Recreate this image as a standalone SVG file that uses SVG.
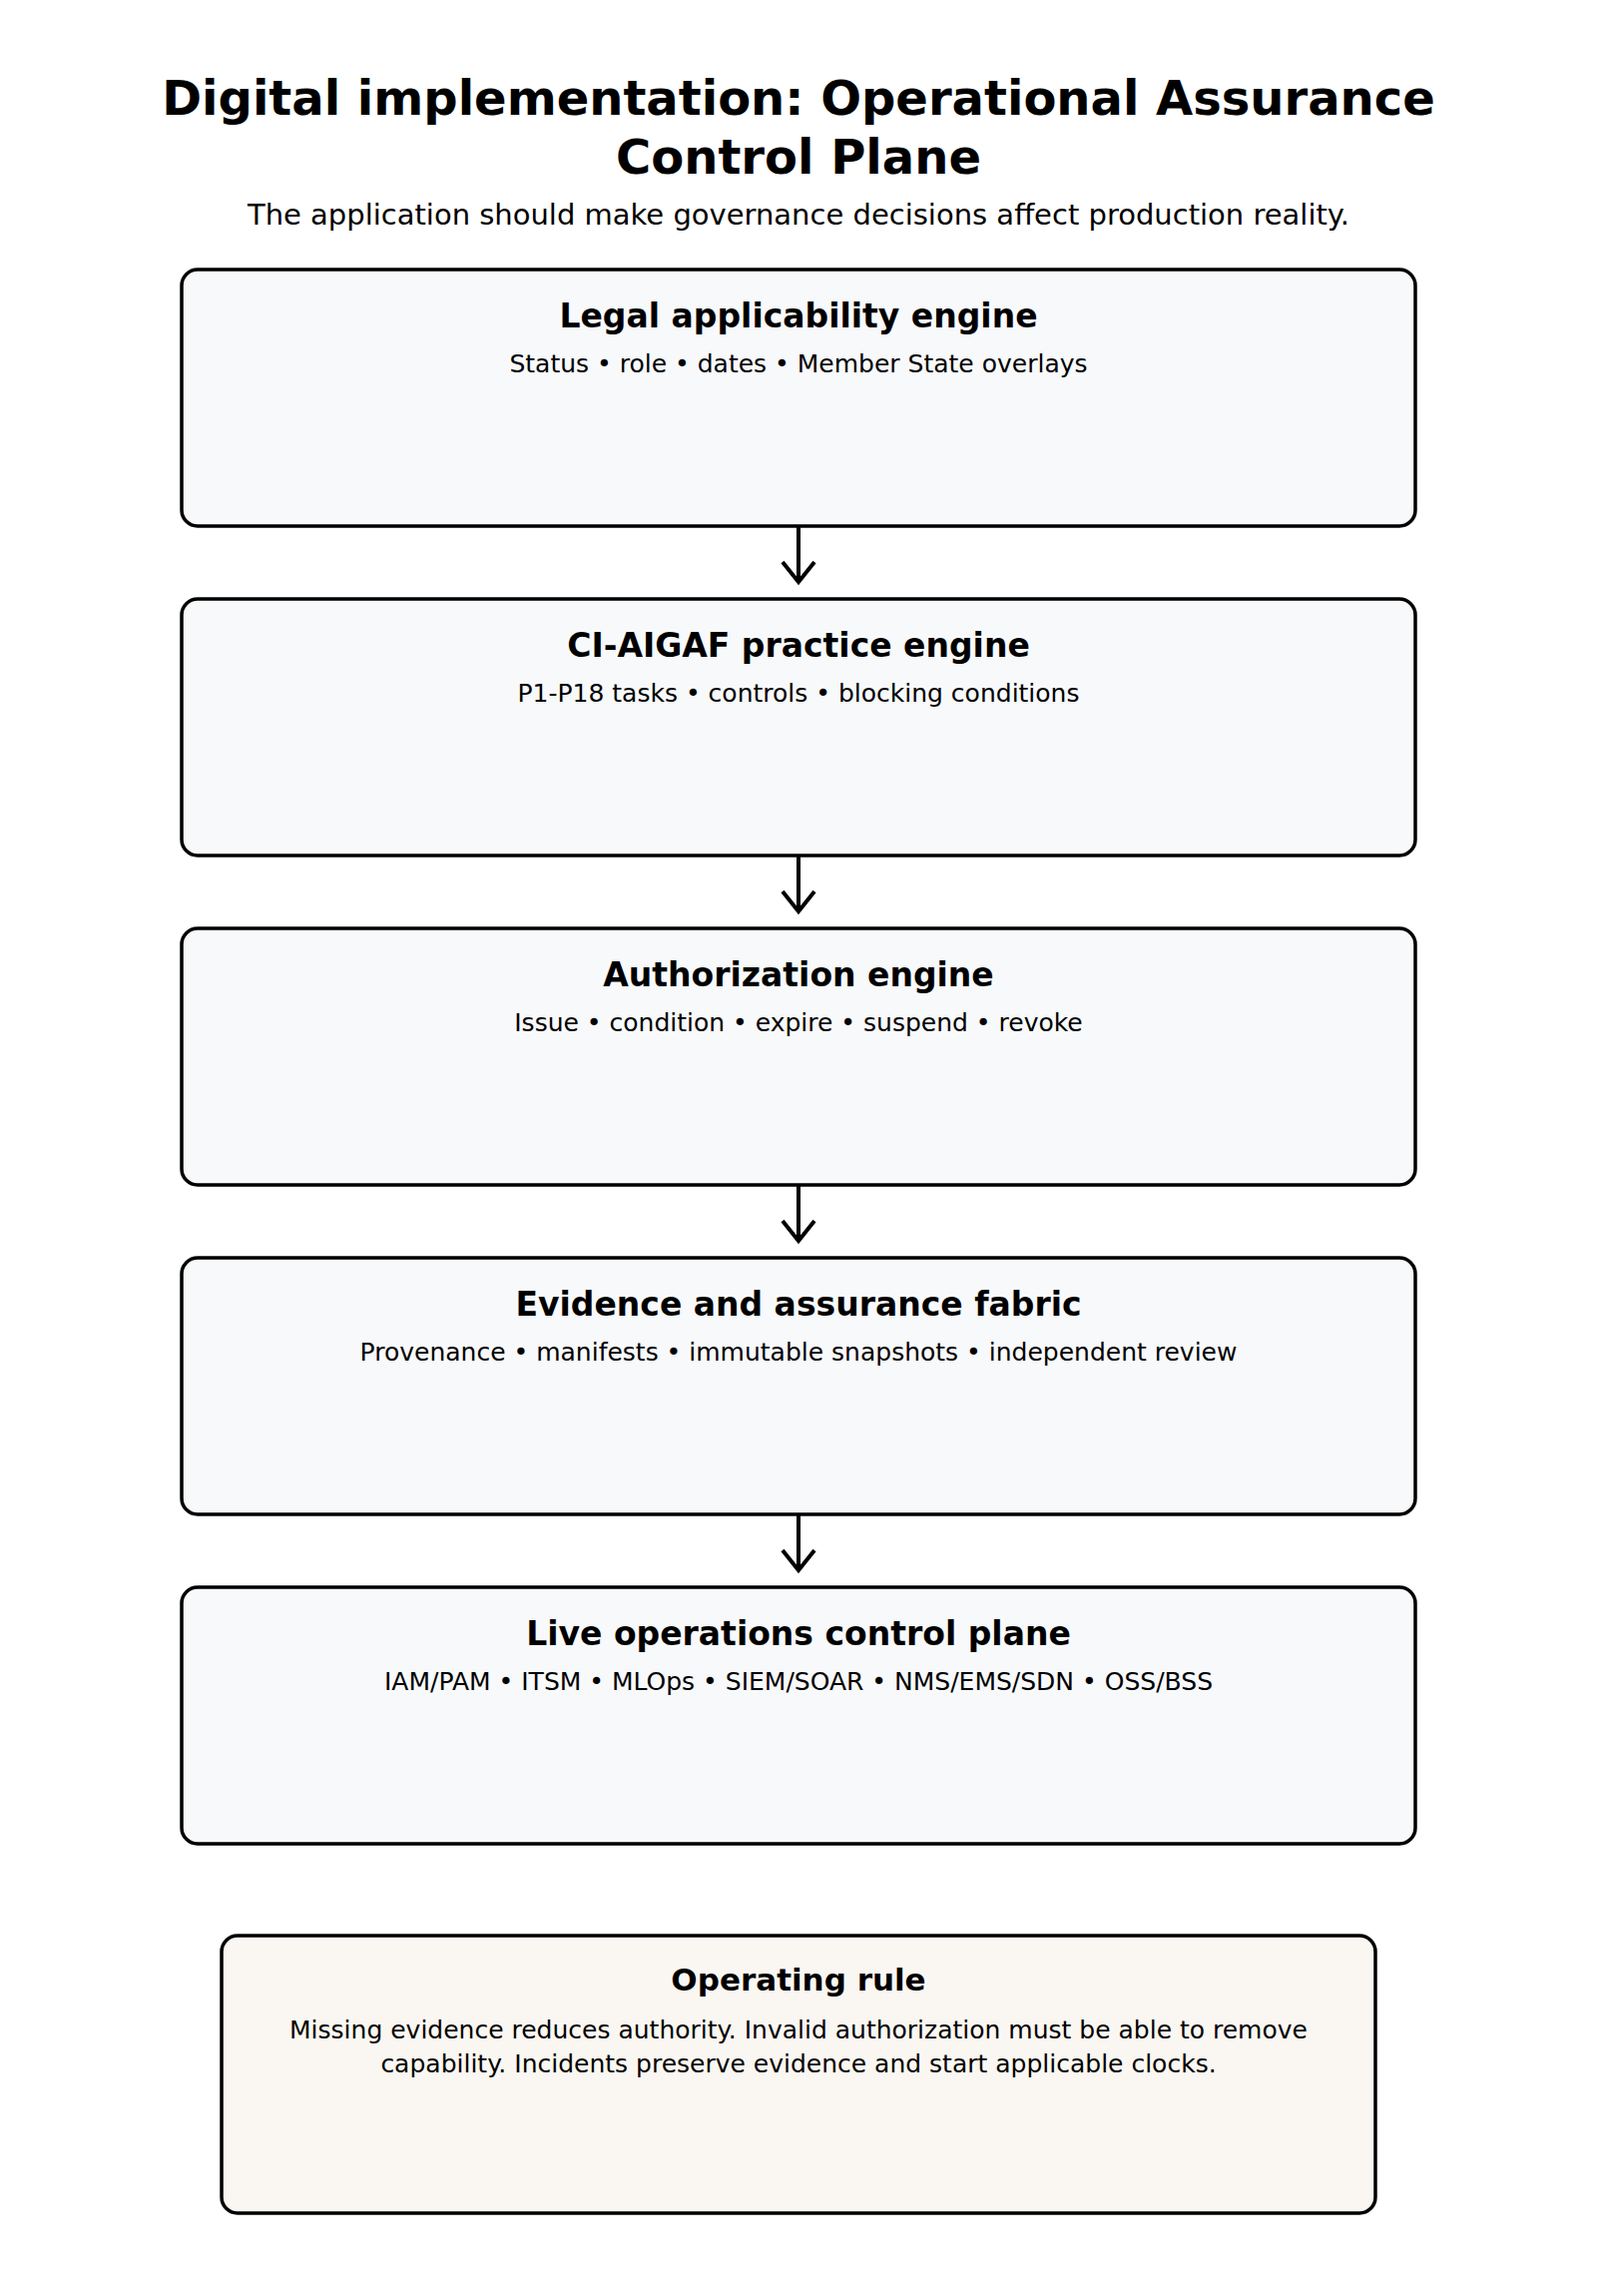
<svg xmlns="http://www.w3.org/2000/svg" width="1600" height="2300" viewBox="0 0 1600 2300">
<style>
text{font-family:"DejaVu Sans","Noto Sans",sans-serif;fill:#000;text-anchor:middle}
.t{font-size:48px;font-weight:bold}
.s{font-size:29px}
.nt{font-size:33px;font-weight:bold}
.rt{font-size:31px;font-weight:bold}
.ns{font-size:25px}
.box{fill:#f8f9fb;stroke:#000;stroke-width:3.5}
.rule{fill:#faf7f2;stroke:#000;stroke-width:3.5}
.edge{stroke:#000;stroke-width:4;fill:none}
</style>
<rect width="1600" height="2300" fill="#fff"/>
<g id="title">
<text class="t" x="800" y="115">Digital implementation: Operational Assurance</text>
<text class="t" x="800" y="174">Control Plane</text>
<text class="s" x="800" y="225">The application should make governance decisions affect production reality.</text>
</g>
<g id="connectors">
<path class="edge" d="M800,527 V582"/>
<path class="edge" d="M784,563 L800,583 L816,563"/>
<path class="edge" d="M800,857 V912"/>
<path class="edge" d="M784,893 L800,913 L816,893"/>
<path class="edge" d="M800,1187 V1242"/>
<path class="edge" d="M784,1223 L800,1243 L816,1223"/>
<path class="edge" d="M800,1517 V1572"/>
<path class="edge" d="M784,1553 L800,1573 L816,1553"/>
</g>
<g id="node-legal">
<rect class="box" x="182" y="270" width="1236" height="257" rx="16"/>
<text class="nt" x="800" y="328">Legal applicability engine</text>
<text class="ns" x="800" y="373">Status • role • dates • Member State overlays</text>
</g>
<g id="node-practice">
<rect class="box" x="182" y="600" width="1236" height="257" rx="16"/>
<text class="nt" x="800" y="658">CI-AIGAF practice engine</text>
<text class="ns" x="800" y="703">P1-P18 tasks • controls • blocking conditions</text>
</g>
<g id="node-authorization">
<rect class="box" x="182" y="930" width="1236" height="257" rx="16"/>
<text class="nt" x="800" y="988">Authorization engine</text>
<text class="ns" x="800" y="1033">Issue • condition • expire • suspend • revoke</text>
</g>
<g id="node-evidence">
<rect class="box" x="182" y="1260" width="1236" height="257" rx="16"/>
<text class="nt" x="800" y="1318">Evidence and assurance fabric</text>
<text class="ns" x="800" y="1363">Provenance • manifests • immutable snapshots • independent review</text>
</g>
<g id="node-live">
<rect class="box" x="182" y="1590" width="1236" height="257" rx="16"/>
<text class="nt" x="800" y="1648">Live operations control plane</text>
<text class="ns" x="800" y="1693">IAM/PAM • ITSM • MLOps • SIEM/SOAR • NMS/EMS/SDN • OSS/BSS</text>
</g>
<g id="node-rule">
<rect class="rule" x="222" y="1939" width="1156" height="278" rx="16"/>
<text class="rt" x="800" y="1994">Operating rule</text>
<text class="ns" x="800" y="2042">Missing evidence reduces authority. Invalid authorization must be able to remove</text>
<text class="ns" x="800" y="2076">capability. Incidents preserve evidence and start applicable clocks.</text>
</g>
</svg>
